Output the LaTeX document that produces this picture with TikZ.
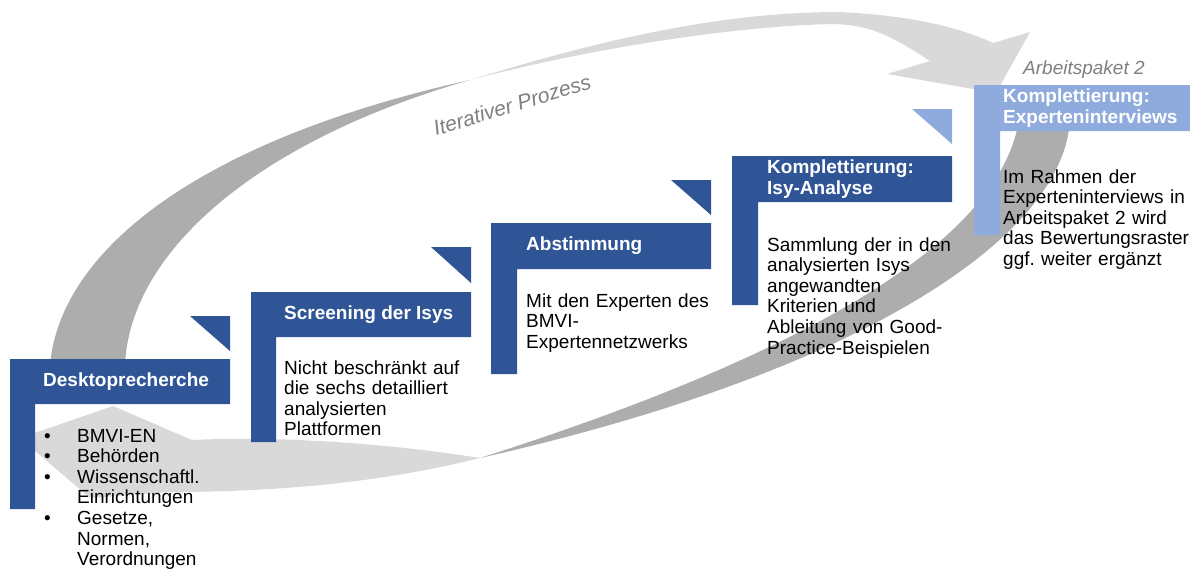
\documentclass[tikz,border=0pt]{standalone}
\usepackage{fontspec}
\setmainfont{Liberation Sans}
\usetikzlibrary{positioning}
\definecolor{stepblue}{HTML}{2F5597}
\definecolor{steplight}{HTML}{8FAADC}
\definecolor{banddark}{HTML}{ADADAD}
\definecolor{bandlight}{HTML}{D9D9D9}
\definecolor{notegray}{HTML}{7F7F7F}
\frenchspacing

\begin{document}
\begin{tikzpicture}[x=1pt,y=-1pt]
        \tikzstyle{title}=[anchor=west,align=left,inner sep=0pt,
        text=white,font=\fontsize{19}{21.5}\selectfont\bfseries]
        \tikzstyle{body}=[anchor=base west,align=left,inner sep=0pt,
        text width=230pt,font=\fontsize{19}{20.6}\selectfont]
        \tikzstyle{note}=[anchor=base west,inner sep=0pt,text=notegray]

        \useasboundingbox (0,0) rectangle (1190,568);

        % upper band: back part, then front part with head
        \fill[banddark] (50,365) .. controls (60,250) and (200,140) .. (470,80)
          .. controls (260,140) and (130,250) .. (125,365) -- cycle;
        \fill[bandlight] (470,80) .. controls (600,40) and (720,12) .. (840,12)
          .. controls (920,16) and (965,30) .. (993,43) -- (1030,32) -- (996,93)
          -- (887,74) -- (930,61) .. controls (890,35) and (870,25) .. (833,24)
          .. controls (740,26) and (600,46) .. (470,80) -- cycle;
        % lower band: back part, then front part with head
        \fill[banddark] (1070,110) .. controls (1075,230) and (870,370) .. (480,458)
          .. controls (800,356) and (1010,240) .. (1020,110) -- cycle;
        \fill[bandlight] (480,458) .. controls (380,442) and (270,436) .. (192,440)
          -- (113,406) -- (20,438) -- (90,498) -- (170,492)
          .. controls (300,492) and (400,478) .. (480,458) -- cycle;

        \node (iter) [note,rotate=17,font=\fontsize{21}{23}\selectfont\itshape]
          at (436,136) {Iterativer Prozess};

        % First step:
        \fill[stepblue] (10,359) -- (230,359) -- (230,404) -- (35,404) -- (35,509) -- (10,509) -- cycle;
        \fill[stepblue] (190,316) -- (230,316) -- (230,351) -- cycle;
        \node (t1) [title] at (43,381.5) {Desktoprecherche};
        \node (b1) [body] at (44,442) {\makebox[33pt][l]{\textbullet}BMVI-EN\\
          \makebox[33pt][l]{\textbullet}Behörden\\
          \makebox[33pt][l]{\textbullet}Wissenschaftl.\\
          \makebox[33pt]{}Einrichtungen\\
          \makebox[33pt][l]{\textbullet}Gesetze,\\
          \makebox[33pt]{}Normen,\\
          \makebox[33pt]{}Verordnungen};
        % Second step:
        \fill[stepblue] (251,292) -- (471,292) -- (471,337) -- (276,337) -- (276,442) -- (251,442) -- cycle;
        \fill[stepblue] (431,247) -- (471,247) -- (471,283) -- cycle;
        \node (t2) [title] at (284,314.5) {Screening der Isys};
        \node (b2) [body] at (284,374) {Nicht beschränkt auf\\ die sechs detailliert\\
          analysierten\\ Plattformen};
        % Third step:
        \fill[stepblue] (491,223) -- (711,223) -- (711,269) -- (517,269) -- (517,374) -- (491,374) -- cycle;
        \fill[stepblue] (671,180) -- (711,180) -- (711,215) -- cycle;
        \node (t3) [title] at (526,246) {Abstimmung};
        \node (b3) [body] at (526,307) {Mit den Experten des\\ BMVI-\\ Expertennetzwerks};
        % Fourth step:
        \fill[stepblue] (732,156) -- (952,156) -- (952,202) -- (758,202) -- (758,305) -- (732,305) -- cycle;
        \fill[steplight] (912,109) -- (952,109) -- (952,144) -- cycle;
        \node (t4) [title] at (767,179) {Komplettierung:\\ Isy-Analyse};
        \node (b4) [body] at (767,251) {Sammlung der in den\\ analysierten Isys\\
          angewandten\\ Kriterien und\\ Ableitung von Good-\\ Practice-Beispielen};
        % Fifth step:
        \fill[steplight] (974,85) -- (1194,85) -- (1194,131) -- (1000,131) -- (1000,235) -- (974,235) -- cycle;
        \node (t5) [title] at (1003,108) {Komplettierung:\\ Experteninterviews};
        \node (b5) [body] at (1003,183) {Im Rahmen der\\ Experteninterviews in\\
          Arbeitspaket 2 wird\\ das Bewertungsraster\\ ggf. weiter ergänzt};
        \node (ap2) [note,font=\fontsize{19}{21}\selectfont\itshape] at (1023,74) {Arbeitspaket 2};
\end{tikzpicture}
\end{document}
